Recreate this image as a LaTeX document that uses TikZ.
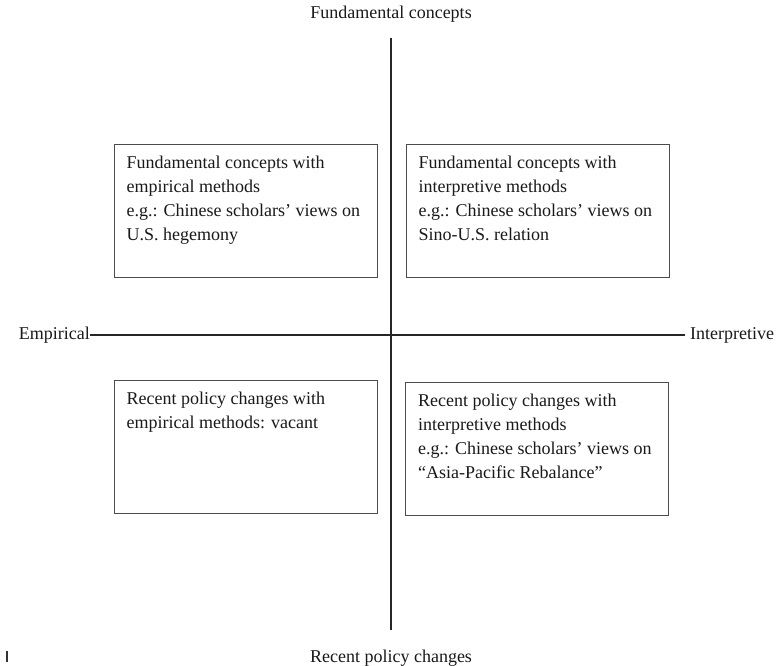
\documentclass[tikz,border=0pt]{standalone}
\usepackage{fontspec}
\setmainfont{Liberation Serif}
\usetikzlibrary{positioning}

\tikzset{
	ax/.style={line width=1.6pt, black!85},
	quad/.style={draw=black!70, line width=1pt, minimum width=263pt,
			minimum height=133pt, inner sep=0pt},
	txt/.style={anchor=north west, inner sep=0pt, align=left,
			font=\fontsize{18}{24}\selectfont, text=black!90},
	lbl/.style={inner sep=0pt, font=\fontsize{18}{24}\selectfont, text=black!90}
}

\begin{document}
\begin{tikzpicture}[x=1pt, y=-1pt]
	\useasboundingbox (0,0) rectangle (779,665);

	% axes
	\node[lbl, anchor=east] (emp) at (90,335) {Empirical};
	\node[lbl, anchor=west] (intp) at (690,335) {Interpretive};
	\node[lbl, anchor=base] (fund) at (391,18) {Fundamental concepts};
	\node[lbl, anchor=base] (rec) at (391,662) {Recent policy changes};

	\coordinate (top) at (391,38);
	\coordinate (bot) at (391,630);
	\coordinate (rgt) at ([xshift=-5pt]intp.west);
	\draw[ax] (emp.east) -- (rgt);
	\draw[ax] (top) -- (bot);

	% quadrants
	\node[quad] (fe) at (245.5,210.5) {};
	\node[quad] (fi) at (537.5,210.5) {};
	\node[quad] (re) at (245.5,447) {};
	\node[quad] (ri) at (537,448.5) {};

	\node[txt] (fetxt) at ([shift={(13,12)}]fe.north west)
	{Fundamental concepts with\\empirical methods\\e.g.: Chinese scholars’ views on\\U.S. hegemony};
	\node[txt] (fitxt) at ([shift={(13,12)}]fi.north west)
	{Fundamental concepts with\\interpretive methods\\e.g.: Chinese scholars’ views on\\Sino-U.S. relation};
	\node[txt] (retxt) at ([shift={(13,12)}]re.north west)
	{Recent policy changes with\\empirical methods: vacant};
	\node[txt] (ritxt) at ([shift={(13,12)}]ri.north west)
	{Recent policy changes with\\interpretive methods\\e.g.: Chinese scholars’ views on\\“Asia-Pacific Rebalance”};

	% stray mark
	\coordinate (mk) at (7,651);
	\draw[line width=1.2pt, black!80] (mk) -- ++(0,11);
\end{tikzpicture}
\end{document}
